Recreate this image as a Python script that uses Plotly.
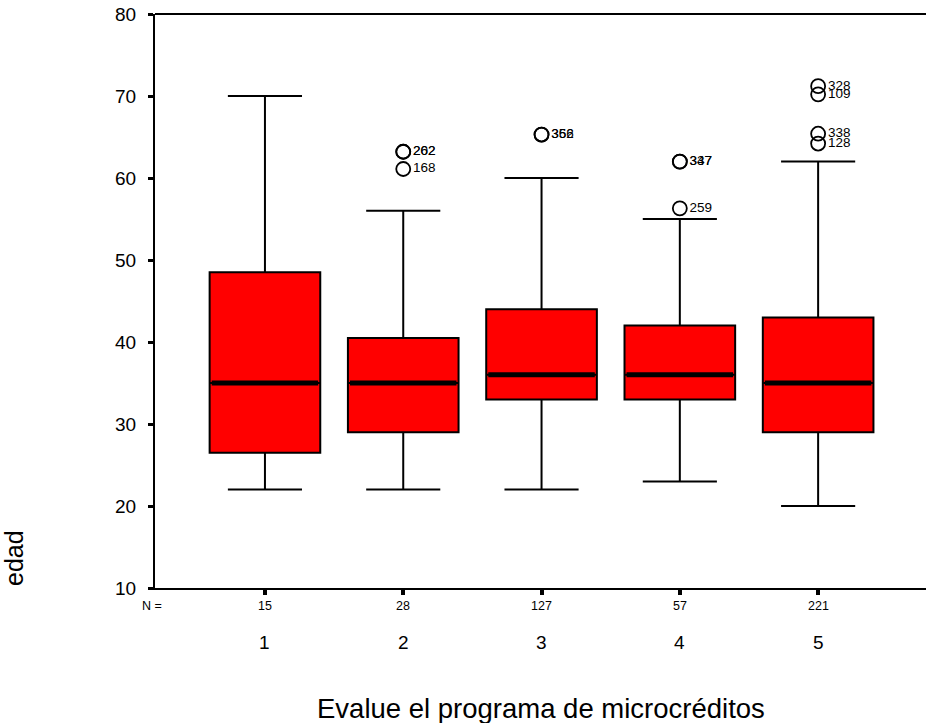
import plotly.graph_objects as go

# ---- data ----
categories = [1, 2, 3, 4, 5]
cat_labels = ["1", "2", "3", "4", "5"]
n_counts = ["15", "28", "127", "57", "221"]
q1 = [26.5, 29, 33, 33, 29]
medians = [35, 35, 36, 36, 35]
q3 = [48.5, 40.5, 44, 42, 43]
lower_whisk = [22, 22, 22, 23, 20]
upper_whisk = [70, 56, 60, 55, 62]
outlier_cat = [2, 2, 2, 3, 3, 4, 4, 4, 5, 5, 5, 5]
outlier_val = [63.2, 63.2, 61.1, 65.3, 65.3, 62, 62, 56.3, 71.2, 70.2, 65.4, 64.2]
outlier_id = ["202", "262", "168", "356", "362", "347", "337", "259", "328", "109", "338", "128"]
y_ticks = [10, 20, 30, 40, 50, 60, 70, 80]

FONT = "Arial, Liberation Sans, sans-serif"
BOX_W = 0.8

fig = go.Figure()
fig.add_trace(go.Box(
    x=categories, q1=q1, median=medians, q3=q3,
    lowerfence=lower_whisk, upperfence=upper_whisk,
    width=BOX_W, whiskerwidth=0.67, boxpoints=False,
    fillcolor="#FF0000", line=dict(color="black", width=2),
    hoverinfo="skip", showlegend=False,
))
# thick median bars
for c, m in zip(categories, medians):
    fig.add_trace(go.Scatter(
        x=[c - BOX_W / 2 + 0.015, c + BOX_W / 2 - 0.015], y=[m, m],
        mode="lines", line=dict(color="black", width=5),
        hoverinfo="skip", showlegend=False,
    ))
# outliers
fig.add_trace(go.Scatter(
    x=outlier_cat, y=outlier_val, mode="markers+text",
    marker=dict(symbol="circle-open", size=14, color="black", line=dict(width=1.8, color="black")),
    text=outlier_id, textposition="middle right",
    textfont=dict(family=FONT, size=13.5, color="black"),
    hoverinfo="skip", showlegend=False,
))

annotations = []
# N row
annotations.append(dict(x=-0.004, xref="paper", y=0, yref="paper", yshift=-18,
                        text="N =", showarrow=False, xanchor="center", yanchor="middle",
                        font=dict(family=FONT, size=12.5, color="black")))
for c, n, lab in zip(categories, n_counts, cat_labels):
    annotations.append(dict(x=c, xref="x", y=0, yref="paper", yshift=-18, text=n,
                            showarrow=False, xanchor="center", yanchor="middle",
                            font=dict(family=FONT, size=12.5, color="black")))
    annotations.append(dict(x=c, xref="x", y=0, yref="paper", yshift=-54, text=lab,
                            showarrow=False, xanchor="center", yanchor="middle",
                            font=dict(family=FONT, size=19, color="black")))
# axis titles
annotations.append(dict(x=0.5, xref="paper", y=0, yref="paper", yshift=-120,
                        text="Evalue el programa de microcréditos", showarrow=False,
                        xanchor="center", yanchor="middle",
                        font=dict(family=FONT, size=27.5, color="black")))
annotations.append(dict(x=(14 - 155) / 771, xref="paper", y=(588 - 558) / 574, yref="paper",
                        text="edad", textangle=-90, showarrow=False,
                        xanchor="center", yanchor="middle",
                        font=dict(family=FONT, size=25, color="black")))

fig.update_layout(
    width=926, height=723,
    margin=dict(l=155, r=0, t=14, b=135),
    paper_bgcolor="white", plot_bgcolor="white",
    font=dict(family=FONT, color="black"),
    annotations=annotations,
    shapes=[dict(type="line", xref="paper", yref="paper", x0=0, x1=1, y0=1, y1=1,
                 line=dict(color="black", width=2))],
    xaxis=dict(range=[0.205, 5.78], tickvals=categories, showticklabels=False,
               ticks="outside", ticklen=5, tickwidth=4, tickcolor="black",
               showline=True, linecolor="black", linewidth=2, mirror=False,
               showgrid=False, zeroline=False),
    yaxis=dict(range=[10, 80], tickvals=y_ticks, ticktext=[str(v) for v in y_ticks],
               ticks="outside", ticklen=5, tickwidth=3, tickcolor="black",
               tickfont=dict(family=FONT, size=19, color="black"),
               ticklabelstandoff=8,
               showline=True, linecolor="black", linewidth=2, mirror=False,
               showgrid=False, zeroline=False),
)

fig.write_html("out.html")
